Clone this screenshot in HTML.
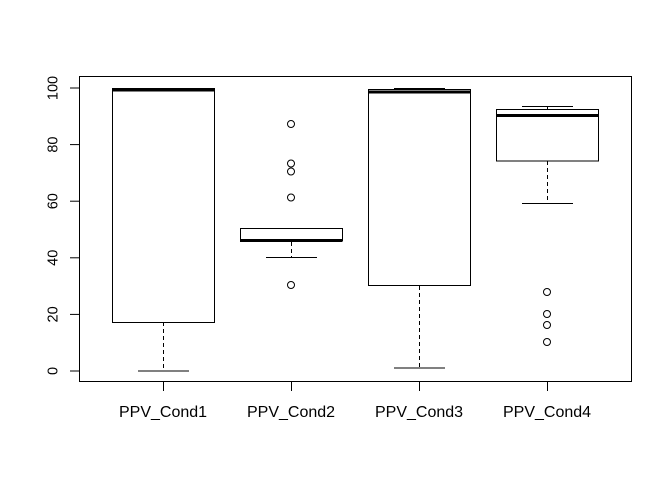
<!DOCTYPE html>
<html><head><meta charset="utf-8"><style>html,body{margin:0;padding:0;background:#fff}</style></head>
<body>
<svg width="672" height="480" viewBox="0 0 672 480" xmlns="http://www.w3.org/2000/svg" font-family="Liberation Sans, sans-serif" font-size="16" fill="none" stroke="#000" stroke-width="1">
<rect x="79.5" y="76.5" width="552" height="305"/>
<g>
<line x1="70" y1="371" x2="79" y2="371"/><line x1="70" y1="314.4" x2="79" y2="314.4"/><line x1="70" y1="257.8" x2="79" y2="257.8"/><line x1="70" y1="201.2" x2="79" y2="201.2"/><line x1="70" y1="144.6" x2="79" y2="144.6"/><line x1="70" y1="88" x2="79" y2="88"/>
<line x1="163.5" y1="382" x2="163.5" y2="391"/><line x1="291.5" y1="382" x2="291.5" y2="391"/><line x1="419.5" y1="382" x2="419.5" y2="391"/><line x1="547.5" y1="382" x2="547.5" y2="391"/>
</g>
<g fill="#000" stroke="none" text-anchor="middle" font-size="14.5">
<text transform="translate(57.5,371) rotate(-90)">0</text>
<text transform="translate(57.5,314.4) rotate(-90)">20</text>
<text transform="translate(57.5,257.8) rotate(-90)">40</text>
<text transform="translate(57.5,201.2) rotate(-90)">60</text>
<text transform="translate(57.5,144.6) rotate(-90)">80</text>
<text transform="translate(57.5,88) rotate(-90)">100</text>
</g>
<g fill="#000" stroke="none" text-anchor="middle" font-size="16">
<text x="163" y="417">PPV_Cond1</text>
<text x="291" y="417">PPV_Cond2</text>
<text x="419" y="417">PPV_Cond3</text>
<text x="547" y="417">PPV_Cond4</text>
</g>
<!-- Cond1 -->
<rect x="112.5" y="88.5" width="102" height="234"/>
<line x1="112" y1="90" x2="214" y2="90" stroke-width="3"/>
<line x1="163.5" y1="322" x2="163.5" y2="371" stroke-dasharray="4,3"/>
<line x1="138" y1="371" x2="189" y2="371"/>
<!-- Cond2 -->
<rect x="240.5" y="228.5" width="102" height="12.5"/>
<line x1="240" y1="240.5" x2="342" y2="240.5" stroke-width="3"/>
<line x1="291.5" y1="242" x2="291.5" y2="257" stroke-dasharray="4,3"/>
<line x1="266" y1="257.5" x2="317" y2="257.5"/>
<circle cx="291" cy="285" r="3.5"/><circle cx="291" cy="197.5" r="3.5"/><circle cx="291" cy="171.5" r="3.5"/><circle cx="291" cy="163.5" r="3.5"/><circle cx="291" cy="124" r="3.5"/>
<!-- Cond3 -->
<rect x="368.5" y="89.5" width="102" height="196"/>
<line x1="368" y1="92" x2="470" y2="92" stroke-width="3"/>
<line x1="394" y1="88.5" x2="445" y2="88.5"/>
<line x1="419.5" y1="286" x2="419.5" y2="368" stroke-dasharray="4,3"/>
<line x1="394" y1="368" x2="445" y2="368"/>
<!-- Cond4 -->
<rect x="496.5" y="109.5" width="102" height="51.5"/>
<line x1="496" y1="115.5" x2="598" y2="115.5" stroke-width="3"/>
<line x1="522" y1="106.5" x2="573" y2="106.5"/>
<line x1="547.5" y1="106.5" x2="547.5" y2="109.5"/>
<line x1="547.5" y1="161" x2="547.5" y2="203.5" stroke-dasharray="4,3"/>
<line x1="522" y1="203.5" x2="573" y2="203.5"/>
<circle cx="547" cy="292" r="3.5"/><circle cx="547" cy="314" r="3.5"/><circle cx="547" cy="325" r="3.5"/><circle cx="547" cy="342" r="3.5"/>
</svg>
</body></html>
